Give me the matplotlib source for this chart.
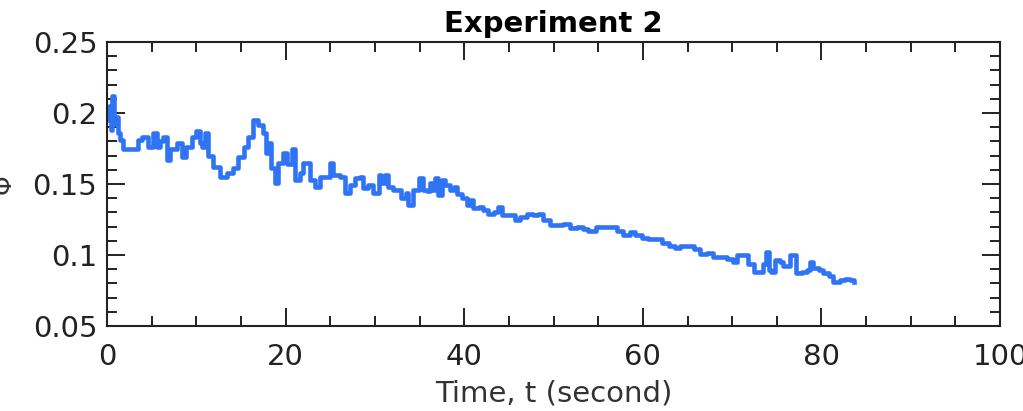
import matplotlib
matplotlib.use("Agg")
import matplotlib.pyplot as plt
from matplotlib.ticker import MultipleLocator

time_s = [0, 0.2, 0.4, 0.6, 0.8, 1.0, 1.2, 1.5, 1.8, 3.1, 3.5, 3.9, 4.3, 4.6, 5.2, 5.6,
          5.9, 6.3, 6.7, 7.1, 7.4, 7.8, 8.4, 8.9, 9.3, 9.5, 10.0, 10.4, 10.6, 11.0, 11.3,
          11.9, 12.6, 13.4, 14.1, 14.7, 15.3, 15.8, 16.4, 16.9, 17.5,
          17.8, 18.0, 18.4, 18.8, 19.2, 19.7, 20.1, 20.7, 21.1, 21.6, 21.9, 22.5, 22.7,
          23.3, 23.8, 24.4, 25.0, 25.3, 26.1, 26.6, 27.2, 27.8, 28.3, 28.7, 29.2, 29.8,
          30.4, 30.7, 31.1, 31.5, 32.0, 32.6, 32.9, 33.5, 33.7, 34.3, 34.9, 35.4, 35.8,
          36.2, 36.5, 36.7, 37.1, 37.5, 37.9, 38.4, 38.8, 39.2, 39.7, 40.3, 40.6, 41.0,
          41.6, 42.1, 42.7, 43.3, 43.8, 44.2, 44.9, 45.7, 46.2, 47.0, 47.7, 48.3, 48.8,
          49.6, 50.3, 51.1, 51.8, 52.6, 53.3, 53.9, 54.8, 55.6, 56.3, 57.1, 57.8, 58.6,
          59.1, 59.9, 60.6, 61.4, 62.1, 62.9, 63.6, 64.2, 64.9, 65.7, 66.4, 67.2, 67.9,
          68.6, 69.4, 70.1, 70.5, 71.3, 71.8, 72.4, 73.1, 73.5, 73.8, 74.1, 74.4, 74.8,
          75.4, 75.7, 76.2, 76.5, 76.9, 77.2, 77.8, 78.4, 78.7, 79.1, 79.7, 80.2, 80.8,
          81.3, 82.1, 82.6, 83.2, 83.6]

phi = [0.195, 0.205, 0.188, 0.212, 0.192, 0.197, 0.186, 0.181, 0.175, 0.175, 0.181, 0.183,
       0.183, 0.176, 0.186, 0.176, 0.180, 0.183, 0.167, 0.175, 0.175, 0.179, 0.169, 0.176,
       0.176, 0.183, 0.187, 0.179, 0.176, 0.186, 0.170, 0.162, 0.155, 0.158, 0.161, 0.169,
       0.176, 0.183, 0.195, 0.1915, 0.186,
       0.172, 0.179, 0.161, 0.151, 0.165, 0.172, 0.164, 0.175, 0.153, 0.158, 0.165, 0.165,
       0.153, 0.148, 0.155, 0.155, 0.165, 0.156, 0.155, 0.144, 0.149, 0.154, 0.155, 0.147,
       0.149, 0.144, 0.156, 0.151, 0.156, 0.148, 0.146, 0.146, 0.140, 0.144, 0.135, 0.146,
       0.154, 0.146, 0.145, 0.151, 0.146, 0.154, 0.142, 0.153, 0.149, 0.146, 0.148, 0.143,
       0.140, 0.135, 0.139, 0.133, 0.134, 0.132, 0.129, 0.130, 0.134, 0.128, 0.128, 0.125,
       0.127, 0.129, 0.128, 0.129, 0.125, 0.121, 0.121, 0.122, 0.119, 0.120, 0.118, 0.117,
       0.120, 0.120, 0.120, 0.117, 0.114, 0.116, 0.114, 0.112, 0.111, 0.111, 0.1085, 0.106,
       0.105, 0.106, 0.106, 0.104, 0.101, 0.1015, 0.0986, 0.0986, 0.097, 0.095, 0.100,
       0.100, 0.094, 0.088, 0.088, 0.094, 0.102, 0.0895, 0.088, 0.0965, 0.095, 0.092,
       0.092, 0.100, 0.100, 0.087, 0.088, 0.0895, 0.0953, 0.091, 0.0895, 0.087, 0.085,
       0.0812, 0.0824, 0.0828, 0.0824, 0.0812]

x_ticks = [0, 20, 40, 60, 80, 100]
y_ticks = [0.05, 0.1, 0.15, 0.2, 0.25]
y_tick_labels = ["0.05", "0.1", "0.15", "0.2", "0.25"]

fig = plt.figure(figsize=(10.23, 4.11), dpi=100)
ax = fig.add_axes([0.1046, 0.2068, 0.873, 0.691])

ax.plot(time_s, phi, color="#2f74f5", lw=3.3, drawstyle="steps-post",
        solid_joinstyle="round")

ax.set_xlim(0, 100)
ax.set_ylim(0.05, 0.25)
ax.set_xticks(x_ticks)
ax.set_yticks(y_ticks)
ax.set_yticklabels(y_tick_labels)
ax.xaxis.set_minor_locator(MultipleLocator(5))
ax.yaxis.set_minor_locator(MultipleLocator(0.01))
ax.tick_params(which="both", direction="in", top=True, right=True, width=1.4,
               colors="#222222", labelsize=21)
ax.tick_params(which="major", length=13)
ax.tick_params(which="minor", length=7)
ax.tick_params(axis="x", which="major", pad=12)
ax.tick_params(axis="y", which="major", pad=7)
for s in ax.spines.values():
    s.set_linewidth(1.5)
    s.set_color("#222222")

ax.set_title("Experiment 2", fontsize=21, fontweight="bold", pad=7)
ax.set_xlabel("Time, t (second)", fontsize=21, color="#333333")
ax.xaxis.set_label_coords(0.5, -0.187)
ax.set_ylabel("Φ", fontsize=18, color="#333333")
ax.yaxis.set_label_coords(-0.102, 0.5)

fig.savefig("out.png", dpi=100)
